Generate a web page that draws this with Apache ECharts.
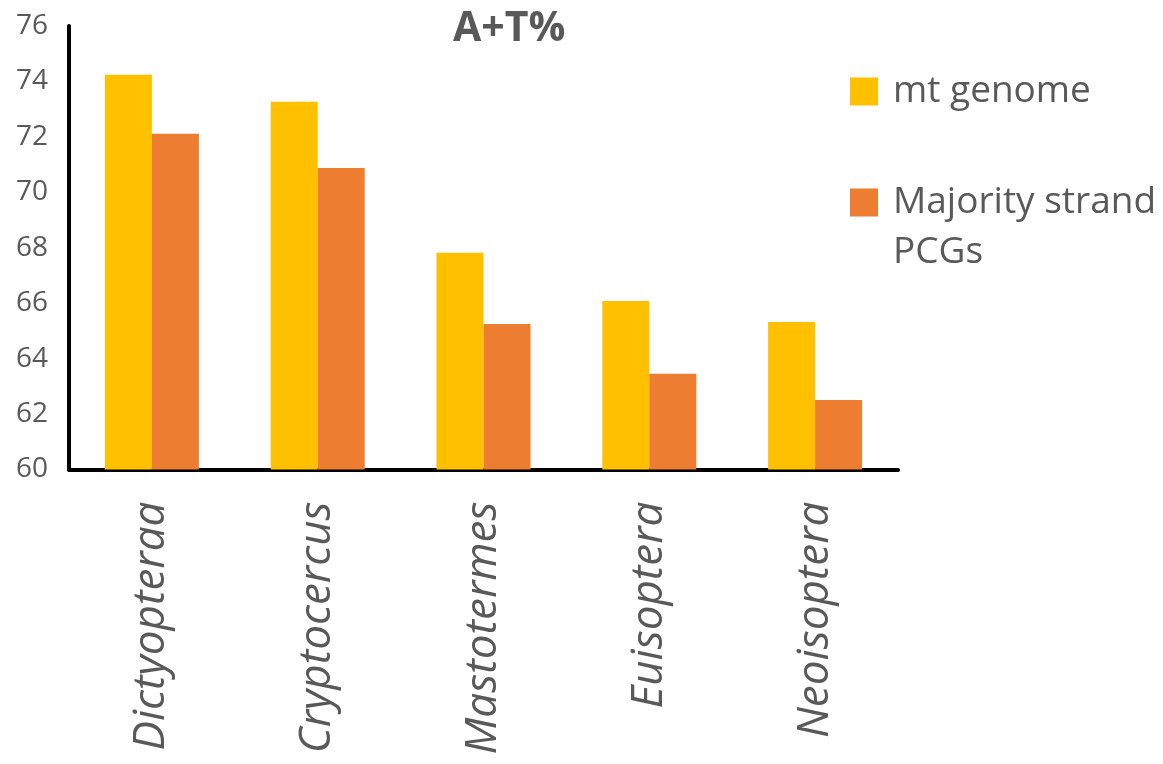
<!DOCTYPE html>
<html>
<head>
<meta charset="utf-8">
<title>A+T%</title>
<script src="https://cdn.jsdelivr.net/npm/echarts@6/dist/echarts.min.js"></script>
<style>
  html, body { margin: 0; padding: 0; background: #fff; }
  #chart { width: 1163px; height: 764px; }
</style>
</head>
<body>
<div id="chart"></div>
<script>
// Taxa on the category axis
const categories = ['Dictyopteraa', 'Cryptocercus', 'Mastotermes', 'Euisoptera', 'Neoisoptera'];
// A+T content (%) of the whole mitochondrial genome
const mtGenome = [74.24, 73.27, 67.82, 66.08, 65.32];
// A+T content (%) of protein-coding genes on the majority strand
const majorityPCGs = [72.11, 70.88, 65.25, 63.45, 62.51];
const seriesNames = ['mt genome', 'Majority strand PCGs'];

const textColor = '#595959';
const font = 'Open Sans';

// Legend labels: wrap into rich lines; the long name breaks after "strand"
// and gets an empty leading line so the swatch sits beside the first line.
const legendRich = {
  t: { fontFamily: font, fontSize: 37, color: textColor, lineHeight: 50, padding: [0, 0, 0, 10] }
};
function legendLabel(name) {
  if (name === seriesNames[1]) {
    return '{t| }\n{t|Majority strand}\n{t|PCGs}';
  }
  return '{t|' + name + '}';
}

const chart = echarts.init(document.getElementById('chart'), null, { renderer: 'canvas' });

chart.setOption({
  backgroundColor: '#ffffff',
  animation: false,
  title: {
    text: 'A+T%',
    left: 448,
    top: 4,
    textStyle: { fontFamily: font, fontSize: 41, fontWeight: 'bold', color: textColor }
  },
  legend: [
    {
      data: [seriesNames[0]],
      orient: 'vertical',
      left: 845,
      top: 68,
      itemWidth: 28,
      itemHeight: 28,
      icon: 'rect',
      formatter: legendLabel,
      textStyle: { rich: legendRich }
    },
    {
      data: [seriesNames[1]],
      orient: 'vertical',
      left: 845,
      top: 129,
      itemWidth: 28,
      itemHeight: 28,
      icon: 'rect',
      formatter: legendLabel,
      textStyle: { rich: legendRich }
    }
  ],
  grid: { left: 69, right: 265, top: 26, bottom: 294.5, containLabel: false },
  xAxis: {
    type: 'category',
    data: categories,
    axisLine: { lineStyle: { color: '#000', width: 4 } },
    axisTick: { show: false },
    axisLabel: {
      rotate: 90,
      margin: 32,
      fontFamily: font,
      fontStyle: 'italic',
      fontSize: 44,
      color: textColor
    }
  },
  yAxis: {
    type: 'value',
    min: 60,
    max: 76,
    interval: 2,
    splitLine: { show: false },
    axisTick: { show: false },
    axisLine: { show: true, lineStyle: { color: '#000', width: 4 } },
    axisLabel: { fontFamily: font, fontSize: 28, color: textColor, margin: 21 }
  },
  series: [
    {
      name: seriesNames[0],
      type: 'bar',
      data: mtGenome,
      barWidth: 47,
      barGap: '0%',
      itemStyle: { color: '#FFC000' }
    },
    {
      name: seriesNames[1],
      type: 'bar',
      data: majorityPCGs,
      barWidth: 47,
      barGap: '0%',
      itemStyle: { color: '#ED7D31' }
    }
  ]
});
</script>
</body>
</html>
